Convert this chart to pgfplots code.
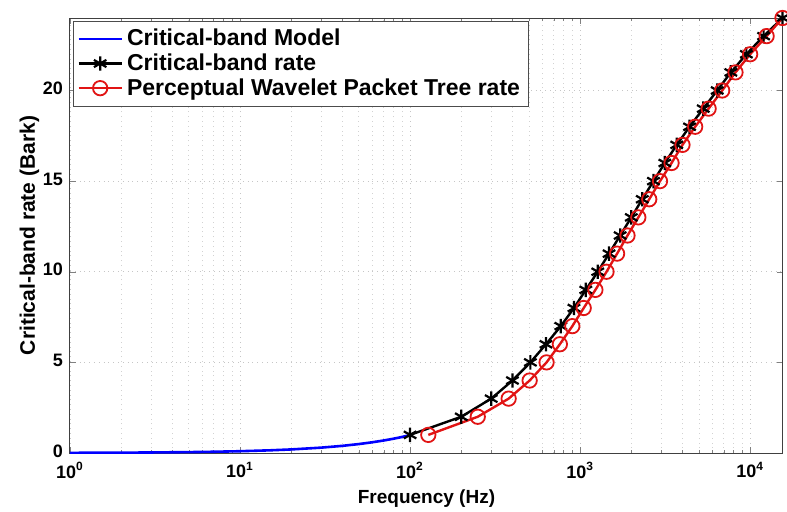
\documentclass[border=0pt]{standalone}
\usepackage{fontspec}
\setmainfont{Liberation Sans}
\usepackage{pgfplots}
\pgfplotsset{compat=1.18}
\definecolor{mblue}{rgb}{0,0,1}
\definecolor{mred}{RGB}{225,20,20}
\begin{document}
\begin{tikzpicture}
\useasboundingbox (-35pt,-29pt) rectangle (358.5pt,226.5pt);
\begin{axis}[
  scale only axis,
  width=356.5pt, height=217.5pt,
  xmode=log,
  xmin=1, xmax=15600,
  ymin=0, ymax=24,
  xtick={1,10,100,1000,10000},
  xticklabels={\textbf{10}\textsuperscript{\textbf{0}},\textbf{10}\textsuperscript{\textbf{1}},\textbf{10}\textsuperscript{\textbf{2}},\textbf{10}\textsuperscript{\textbf{3}},\textbf{10}\textsuperscript{\textbf{4}}},
  ytick={0,5,10,15,20},
  yticklabels={\textbf{0},\textbf{5},\textbf{10},\textbf{15},\textbf{20}},
  tick label style={font=\fontsize{9}{10}\selectfont},
  xticklabel style={yshift=-1pt},
  yticklabel style={yshift=1pt},
  xlabel={\textbf{Frequency (Hz)}},
  ylabel={\textbf{Critical-band rate (Bark)}},
  xlabel style={font=\fontsize{9.5}{11}\selectfont, yshift=1pt},
  ylabel style={font=\fontsize{10.5}{12}\selectfont, yshift=-5pt},
  tick align=inside,
  major tick length=3pt, minor tick length=1.5pt,
  grid=both,
  major grid style={draw=gray!45, dotted, line width=0.4pt},
  minor grid style={draw=gray!35, dotted, line width=0.4pt},
  axis line style={draw=black!75, line width=0.5pt},
  legend style={at={(0.004,0.994)}, anchor=north west, draw=black!70,
    font=\fontsize{11.5}{13}\selectfont\bfseries, row sep=-1.5pt,
    inner sep=2pt, cells={anchor=west}},
  legend cell align=left,
  legend image code/.code={
    \draw[mark repeat=2,mark phase=2,line width=1.3pt,#1]
      plot coordinates {(0cm,0cm) (0.38cm,0cm) (0.76cm,0cm)};},
]
\addplot[mblue, line width=1.3pt] coordinates {
  (1,0.00988) (2,0.01976) (3,0.02964) (5,0.0494) (7,0.06916) (10,0.0988)
  (15,0.1482) (20,0.1976) (30,0.2963) (40,0.3951) (50,0.4940) (60,0.5926)
  (70,0.6913) (80,0.7898) (90,0.8883) (100,0.9867)
};
\addlegendentry{Critical-band Model}
\addplot[black, line width=1.2pt, mark=asterisk, mark size=3.6pt, mark options={line width=1.1pt}] coordinates {
  (100,1) (200,2) (300,3) (400,4) (510,5) (630,6) (770,7) (920,8)
  (1080,9) (1270,10) (1480,11) (1720,12) (2000,13) (2320,14) (2700,15)
  (3150,16) (3700,17) (4400,18) (5300,19) (6400,20) (7700,21) (9500,22)
  (12000,23) (15500,24)
};
\addlegendentry{Critical-band rate}
\addplot[mred, line width=1.2pt, mark=o, mark size=3.6pt, mark options={line width=0.9pt}] coordinates {
  (128,1) (250,2) (380,3) (505,4) (635,5) (760,6) (900,7) (1050,8)
  (1230,9) (1430,10) (1650,11) (1900,12) (2200,13) (2550,14) (2950,15)
  (3450,16) (4000,17) (4750,18) (5700,19) (6850,20) (8200,21) (10000,22)
  (12500,23) (15500,24)
};
\addlegendentry{Perceptual Wavelet Packet Tree rate}
\end{axis}
\end{tikzpicture}
\end{document}
